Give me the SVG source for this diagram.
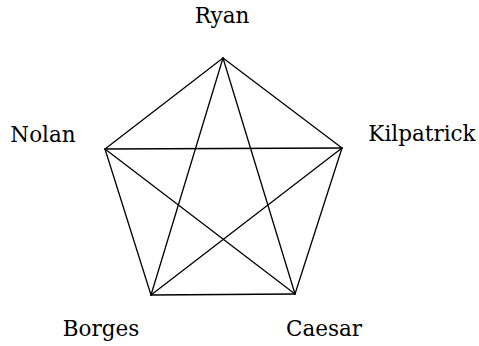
<svg xmlns="http://www.w3.org/2000/svg" width="479" height="346" viewBox="0 0 479 346">
<style>
.e{stroke:#000;stroke-width:1.3;fill:none;stroke-linecap:round}
text{font-family:"DejaVu Serif","Liberation Serif",serif;font-size:21.5px;fill:#000;text-anchor:middle}
</style>
<rect width="479" height="346" fill="#fff"/>
<g id="edges">
<line class="e" x1="223" y1="58" x2="342" y2="148"/>
<line class="e" x1="223" y1="58" x2="295" y2="294"/>
<line class="e" x1="223" y1="58" x2="151" y2="295"/>
<line class="e" x1="223" y1="58" x2="105" y2="149"/>
<line class="e" x1="342" y1="148" x2="295" y2="294"/>
<line class="e" x1="342" y1="148" x2="151" y2="295"/>
<line class="e" x1="342" y1="148" x2="105" y2="149"/>
<line class="e" x1="295" y1="294" x2="151" y2="295"/>
<line class="e" x1="295" y1="294" x2="105" y2="149"/>
<line class="e" x1="151" y1="295" x2="105" y2="149"/>
</g>
<g id="ryan"><text x="222" y="23">Ryan</text></g>
<g id="kilpatrick"><text x="422" y="141">Kilpatrick</text></g>
<g id="caesar"><text x="324" y="336">Caesar</text></g>
<g id="borges"><text x="101" y="336">Borges</text></g>
<g id="nolan"><text x="43" y="142">Nolan</text></g>
</svg>
